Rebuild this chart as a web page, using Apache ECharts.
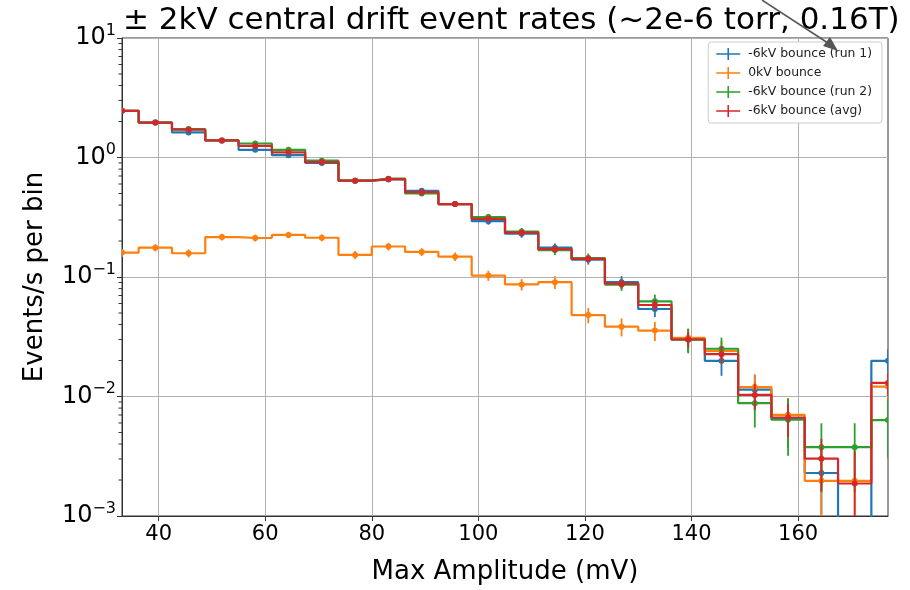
<!DOCTYPE html>
<html lang="en">
<head>
    <meta charset="UTF-8">
    <title>Event rates</title>
    <script src="https://cdn.jsdelivr.net/npm/echarts@6/dist/echarts.min.js"></script>
    <style>
        body { margin: 0; background: #fff; }
        #chart { width: 910px; height: 590px; }
    </style>
</head>
<body>
    <div id="chart"></div>
    <script type="text/javascript">
        // bin centres (mV)
        var binCenters = [33.125, 39.375, 45.625, 51.875, 58.125, 64.375, 70.625, 76.875,
            83.125, 89.375, 95.625, 101.875, 108.125, 114.375, 120.625, 126.875,
            133.125, 139.375, 145.625, 151.875, 158.125, 164.375, 170.625, 176.875];

        // -6kV bounce (run 1)
        var run1Rates = [2.46, 1.96, 1.62, 1.39, 1.16, 1.045, 0.90, 0.64, 0.655, 0.526, 0.408, 0.293,
            0.23, 0.176, 0.14, 0.0905, 0.054, 0.030, 0.0199, 0.0114, 0.0066, 0.00229, 0, 0.0199];
        var run1Errs = [0.055, 0.049, 0.045, 0.042, 0.038, 0.036, 0.034, 0.028, 0.029, 0.026, 0.023, 0.019,
            0.017, 0.015, 0.013, 0.011, 0.0078, 0.0065, 0.005, 0.0038, 0.0029, 0.0017, 0, 0.005];

        // 0kV bounce
        var zeroKvRates = [0.160, 0.176, 0.158, 0.216, 0.212, 0.225, 0.213, 0.153, 0.18, 0.162, 0.148, 0.1027,
            0.0866, 0.0905, 0.048, 0.0384, 0.0356, 0.031, 0.0241, 0.012, 0.00703, 0.00197, 0.00197, 0.0121];
        var zeroKvErrs = [0.012, 0.012, 0.012, 0.014, 0.014, 0.014, 0.014, 0.012, 0.013, 0.012, 0.012, 0.010,
            0.0095, 0.011, 0.0069, 0.0066, 0.0065, 0.0058, 0.005, 0.0033, 0.0027, 0.002, 0.002, 0.004];

        // -6kV bounce (run 2)
        var run2Rates = [2.46, 1.96, 1.73, 1.39, 1.31, 1.16, 0.94, 0.64, 0.665, 0.50, 0.408, 0.317,
            0.24, 0.168, 0.144, 0.0865, 0.0626, 0.030, 0.0251, 0.0088, 0.0064, 0.00377, 0.00377, 0.00635];
        var run2Errs = [0.055, 0.05, 0.047, 0.042, 0.041, 0.038, 0.034, 0.028, 0.029, 0.025, 0.023, 0.02,
            0.017, 0.015, 0.013, 0.010, 0.0086, 0.007, 0.006, 0.0033, 0.0032, 0.0022, 0.0022, 0.0033];

        // -6kV bounce (avg)
        var avgRates = [2.46, 1.96, 1.71, 1.39, 1.25, 1.105, 0.915, 0.64, 0.66, 0.513, 0.408, 0.307,
            0.235, 0.171, 0.142, 0.088, 0.0583, 0.030, 0.0226, 0.0103, 0.00667, 0.00302, 0.00187, 0.013];
        var avgErrs = [0.039, 0.035, 0.033, 0.03, 0.028, 0.026, 0.024, 0.02, 0.02, 0.018, 0.016, 0.014,
            0.012, 0.0105, 0.0095, 0.0074, 0.0058, 0.0044, 0.0038, 0.0025, 0.0021, 0.0014, 0.0016, 0.0029];

        var seriesNames = ['-6kV bounce (run 1)', '0kV bounce', '-6kV bounce (run 2)', '-6kV bounce (avg)'];
        var seriesColors = ['#1f77b4', '#ff7f0e', '#2ca02c', '#d62728'];
        var xTicks = [40, 60, 80, 100, 120, 140, 160];
        var yMajorTicks = [0.001, 0.01, 0.1, 1, 10];

        var FONT = 'DejaVu Sans';
        var FLOOR = 1e-6; // empty bins get clipped off the bottom like matplotlib does

        // minor log ticks 2..9 x 10^n
        var yMinorTicks = [];
        for (var d = 0; d < 4; d++) {
            for (var m = 2; m <= 9; m++) {
                yMinorTicks.push(m * yMajorTicks[d]);
            }
        }

        var allRates = [run1Rates, zeroKvRates, run2Rates, avgRates];
        var allErrs = [run1Errs, zeroKvErrs, run2Errs, avgErrs];

        var series = [];
        for (var s = 0; s < 4; s++) {
            var lineData = [], barData = [];
            for (var i = 0; i < binCenters.length; i++) {
                var v = allRates[s][i], e = allErrs[s][i];
                lineData.push([binCenters[i], v > 0 ? v : FLOOR]);
                if (v > 0) {
                    barData.push([binCenters[i], Math.max(v - e, FLOOR), v + e, v]);
                }
            }
            series.push({
                name: seriesNames[s],
                type: 'line',
                step: 'middle',
                data: lineData,
                showSymbol: false,
                color: seriesColors[s],
                lineStyle: { width: 2.2, color: seriesColors[s] },
                z: 2 + s,
                clip: true,
                animation: false
            });
            series.push({
                name: seriesNames[s],
                type: 'custom',
                data: barData,
                clip: true,
                z: 2 + s,
                color: seriesColors[s],
                animation: false,
                renderItem: (function (col) {
                    return function (params, api) {
                        var top = api.coord([api.value(0), api.value(2)]);
                        var bot = api.coord([api.value(0), api.value(1)]);
                        var mid = api.coord([api.value(0), api.value(3)]);
                        return {
                            type: 'group',
                            children: [{
                                type: 'line',
                                shape: { x1: top[0], y1: top[1], x2: bot[0], y2: bot[1] },
                                style: { stroke: col, lineWidth: 1.8 }
                            }, {
                                type: 'circle',
                                shape: { cx: mid[0], cy: mid[1], r: 3 },
                                style: { fill: col }
                            }]
                        };
                    };
                })(seriesColors[s])
            });
        }

        // minor ticks on the log axis (outside, left)
        series.push({
            type: 'custom',
            silent: true,
            clip: false,
            animation: false,
            data: yMinorTicks.map(function (t) { return [binCenters[0], t]; }),
            renderItem: function (params, api) {
                var p = api.coord([api.value(0), api.value(1)]);
                return {
                    type: 'line',
                    shape: { x1: p[0] - 3.5, y1: p[1], x2: p[0], y2: p[1] },
                    style: { stroke: '#333', lineWidth: 1 }
                };
            }
        });

        var crossIcon = 'path://M0,6.5H30V8.5H0Z M14,0H16V15H14Z';

        var option = {
            backgroundColor: '#fff',
            animation: false,
            textStyle: { fontFamily: FONT },
            title: {
                text: '± 2kV central drift event rates (~2e-6 torr, 0.16T)',
                left: 118,
                top: 0,
                textStyle: { fontFamily: FONT, fontSize: 31, fontWeight: 'normal', color: '#000' }
            },
            legend: {
                orient: 'vertical',
                right: 28,
                top: 42,
                itemWidth: 30,
                itemHeight: 12,
                itemGap: 7,
                padding: [6, 10, 6, 8],
                backgroundColor: '#fff',
                borderColor: '#ccc',
                borderWidth: 1,
                borderRadius: 3,
                textStyle: { fontFamily: FONT, fontSize: 12.4, color: '#222' },
                data: seriesNames.map(function (n) { return { name: n, icon: crossIcon }; })
            },
            grid: { left: 122, right: 22, top: 38, bottom: 69, show: true, borderColor: '#333', borderWidth: 1 },
            xAxis: {
                type: 'value',
                min: binCenters[0],
                max: binCenters[binCenters.length - 1],
                name: 'Max Amplitude (mV)',
                nameLocation: 'middle',
                nameGap: 43,
                nameTextStyle: { fontFamily: FONT, fontSize: 26, color: '#000' },
                axisLine: { show: true, lineStyle: { color: '#333' } },
                axisTick: { show: true, length: 5, customValues: xTicks, lineStyle: { color: '#333' } },
                axisLabel: { customValues: xTicks, fontFamily: FONT, fontSize: 21, color: '#000', margin: 8 },
                splitLine: { show: true, lineStyle: { color: '#b0b0b0', width: 1 } }
            },
            yAxis: {
                type: 'log',
                logBase: 10,
                min: 0.001,
                max: 10,
                name: 'Events/s per bin',
                nameLocation: 'middle',
                nameGap: 74,
                nameTextStyle: { fontFamily: FONT, fontSize: 26, color: '#000' },
                axisLine: { show: true, lineStyle: { color: '#333' } },
                axisTick: { show: true, length: 5, lineStyle: { color: '#333' } },
                axisLabel: {
                    margin: 6,
                    formatter: function (v) {
                        var p = Math.round(Math.log10(v));
                        return '{b|10}{s|' + (p < 0 ? '\u2212' + (-p) : p) + '}';
                    },
                    rich: {
                        b: { fontFamily: FONT, fontSize: 24, color: '#000' },
                        s: { fontFamily: FONT, fontSize: 16, color: '#000', padding: [0, 0, 15, 0] }
                    }
                },
                splitLine: { show: true, lineStyle: { color: '#b0b0b0', width: 1 } }
            },
            series: series,
            graphic: [{
                type: 'line',
                shape: { x1: 762, y1: 0, x2: 831, y2: 45 },
                style: { stroke: '#555', lineWidth: 1.5 },
                z: 100
            }, {
                type: 'polygon',
                shape: { points: [[838, 51], [823, 46], [830, 37]] },
                style: { fill: '#555' },
                z: 100
            }]
        };

        echarts.init(document.getElementById('chart')).setOption(option);
    </script>
</body>
</html>
